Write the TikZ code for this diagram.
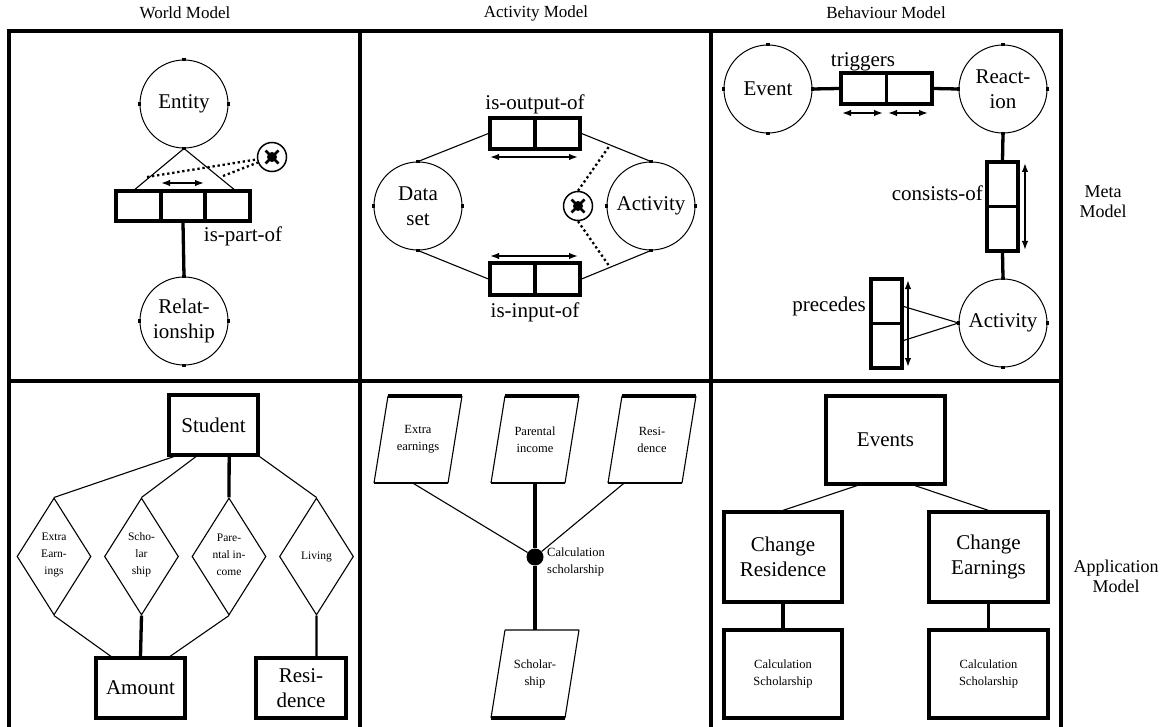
\documentclass[tikz,border=0pt]{standalone}
\usepackage{fontspec}
\setmainfont{Liberation Serif}
\usetikzlibrary{shapes.geometric,arrows.meta}
\tikzset{
  frameln/.style={line width=3.2pt},
  thinln/.style={line width=1.1pt},
  thickln/.style={line width=3.3pt},
  medln/.style={line width=2.2pt},
  dotln/.style={line width=2.3pt,dash pattern=on 2.3pt off 2.8pt},
  darr/.style={line width=1.7pt,{Latex[length=9pt,width=6.5pt]}-{Latex[length=9pt,width=6.5pt]}},
  bigtxt/.style={font=\fontsize{21}{25}\selectfont},
  smalltxt/.style={font=\fontsize{12.5}{17}\selectfont},
  diatxt/.style={font=\fontsize{11.5}{17}\selectfont},
  titletxt/.style={font=\fontsize{17}{20}\selectfont},
  sidetxt/.style={font=\fontsize{18}{20}\selectfont},
  circ/.style={circle,draw,line width=1pt,minimum size=88pt,inner sep=0pt,align=center,bigtxt},
  boxn/.style={draw,line width=3.2pt,inner sep=0pt,align=center},
  dia/.style={diamond,draw,thinln,shape aspect=0.63,minimum width=74pt,minimum height=117pt,inner sep=0pt,align=center,diatxt},
  pg/.style={minimum width=74pt,minimum height=87pt,inner sep=0pt,align=center,smalltxt},
}
\newcommand\cticks[1]{\foreach \a in {north,south,east,west}{\fill (#1.\a) +(-1.8,-1.8) rectangle +(1.8,1.8);}}
\newcommand\xmark[3]{%
  \node[circle,draw,line width=1.5pt,minimum size=29pt,inner sep=0pt] (#1) at (#2,#3) {};
  \draw[line width=2.8pt] (#2-6.5,#3-6.5) -- (#2+6.5,#3+6.5) (#2-6.5,#3+6.5) -- (#2+6.5,#3-6.5);
  \fill (#2,#3) circle (5);}
\newcommand\pgtop[1]{%
  \draw[thinln,shift={(#1.center)}] (-30,-43.5) -- (-44,43.5) (44,-43.5) -- (30,43.5);
  \draw[medln,shift={(#1.center)}] (-44,43.5) -- (30,43.5);
  \draw[thickln,shift={(#1.center)}] (-30,-43.5) -- (44,-43.5);}
\begin{document}
\begin{tikzpicture}[x=1pt,y=-1pt]
\useasboundingbox (0,0) rectangle (1172,727);
% frame
\draw[frameln] (9,727) -- (9,31) -- (1061,31) -- (1061,727);
\draw[frameln] (9,381) -- (1061,381);
\draw[frameln] (360,31) -- (360,727);
\draw[frameln] (711,31) -- (711,727);
% titles
\node[titletxt] (t1) at (185,13) {World Model};
\node[titletxt] (t2) at (536,13) {Activity Model};
\node[titletxt] (t3) at (886,13) {Behaviour Model};
\node[sidetxt,align=center] (t4) at (1103,202) {Meta\\Model};
\node[sidetxt,align=center] (t5) at (1116,576) {Application\\Model};

% ---------- World model (meta)
\node[circ] (entity) at (184,104) {Entity};
\node[circ] (rel) at (184,321) {Relat-\\ionship};
\cticks{entity}\cticks{rel}
\node[boxn,minimum width=134pt,minimum height=30pt] (ipo) at (183,206) {};
\draw[thickln] (161,191) -- (161,221) (205,191) -- (205,221);
\coordinate (ipoL) at (133,191);
\coordinate (ipoR) at (236,191);
\draw[thinln] (ipoL) -- (entity.south) -- (ipoR);
\coordinate (a1) at (161,183); \coordinate (a2) at (204,183);
\draw[darr] (a1) -- (a2);
\xmark{xa}{272}{157}
\coordinate (d1) at (147,177); \coordinate (d2) at (223,176);
\draw[dotln] (d1) -- (xa); \draw[dotln] (d2) -- (xa);
\node[bigtxt] (lpart) at (243,236) {is-part-of};
\draw[thickln] (ipo.south) -- (rel.north);

% ---------- Activity model (meta)
\node[circ] (ds) at (418,206) {Data\\set};
\node[circ] (act1) at (651,206) {Activity};
\cticks{ds}\cticks{act1}
\node[boxn,minimum width=90pt,minimum height=31pt] (out) at (535,133.5) {};
\draw[thickln] (out.north) -- (out.south);
\node[boxn,minimum width=90pt,minimum height=32pt] (in) at (535,279) {};
\draw[thickln] (in.north) -- (in.south);
\draw[thinln] (ds.north) -- (out.west) (out.east) -- (act1.north);
\draw[thinln] (ds.south) -- (in.west) (in.east) -- (act1.south);
\coordinate (b1) at (490,157); \coordinate (b2) at (578,157);
\coordinate (b3) at (490,256); \coordinate (b4) at (578,256);
\draw[darr] (b1) -- (b2); \draw[darr] (b3) -- (b4);
\node[bigtxt] (lout) at (535,104) {is-output-of};
\node[bigtxt] (lin) at (535,312) {is-input-of};
\xmark{xb}{578}{206}
\path (out.east) -- (act1.north) coordinate[pos=0.41] (d3);
\path (in.east) -- (act1.south) coordinate[pos=0.41] (d4);
\draw[dotln] (xb.north) -- (d3); \draw[dotln] (xb.south) -- (d4);

% ---------- Behaviour model (meta)
\node[circ] (ev) at (768,89) {Event};
\node[circ] (react) at (1003,89) {React-\\ion};
\node[circ] (act2) at (1003,323) {Activity};
\cticks{ev}\cticks{react}\cticks{act2}
\node[boxn,minimum width=91pt,minimum height=31pt] (trig) at (886.5,88.5) {};
\draw[thickln] (trig.north) -- (trig.south);
\draw[thickln] (ev.east) -- (trig.west) (trig.east) -- (react.west);
\coordinate (c1) at (842,113); \coordinate (c2) at (883,113);
\coordinate (c3) at (888,113); \coordinate (c4) at (928,113);
\draw[darr] (c1) -- (c2); \draw[darr] (c3) -- (c4);
\node[bigtxt] (ltrig) at (863,62) {triggers};
\node[boxn,minimum width=31pt,minimum height=89pt] (cons) at (1002.5,206.5) {};
\draw[thickln] (cons.west) -- (cons.east);
\draw[thickln] (react.south) -- (cons.north) (cons.south) -- (act2.north);
\coordinate (c5) at (1025,163); \coordinate (c6) at (1025,250);
\draw[darr] (c5) -- (c6);
\node[bigtxt,anchor=east,inner sep=0pt] (lcons) at (983,193) {consists-of};
\node[boxn,minimum width=31pt,minimum height=89pt] (prec) at (886.5,323.5) {};
\draw[thickln] (prec.west) -- (prec.east);
\coordinate (c7) at (908,280); \coordinate (c8) at (908,367);
\draw[darr] (c7) -- (c8);
\coordinate (p1) at (902,306); \coordinate (p2) at (902,341);
\draw[thinln] (p1) -- (act2.west) -- (p2);
\node[bigtxt,anchor=east,inner sep=0pt] (lprec) at (866,306) {precedes};

% ---------- World model (application)
\node[boxn,minimum width=89pt,minimum height=60pt,bigtxt] (stud) at (213.5,425) {Student};
\node[dia] (ee) at (54,556.5) {\\[-12pt]Extra\\Earn-\\ings};
\node[dia] (sch) at (141.5,556.5) {\\[-12pt]Scho-\\lar\\ship};
\node[dia] (par) at (229,556.5) {\\[-12pt]Pare-\\ntal in-\\come};
\node[dia] (liv) at (316.5,556.5) {Living};
\node[boxn,minimum width=89pt,minimum height=60pt,bigtxt] (amt) at (140.5,688) {Amount};
\node[boxn,minimum width=90pt,minimum height=60pt,bigtxt] (res) at (301,688) {Resi-\\dence};
\path (stud.south west) -- (stud.south east)
  coordinate[pos=0.07] (s1) coordinate[pos=0.31] (s2) coordinate[pos=0.67] (s3) coordinate[pos=1] (s4);
\draw[thinln] (s1) -- (ee.north);
\draw[thinln] (s2) -- (sch.north);
\draw[thickln] (s3) -- (par.north);
\draw[thinln] (s4) -- (liv.north);
\path (amt.north west) -- (amt.north east)
  coordinate[pos=0.18] (m1) coordinate[pos=0.82] (m2);
\path (res.north west) -- (res.north east) coordinate[pos=0.667] (m3);
\draw[thinln] (ee.south) -- (m1);
\draw[thickln] (sch.south) -- (amt.north);
\draw[thinln] (par.south) -- (m2);
\draw[medln] (liv.south) -- (m3);

% ---------- Activity model (application)
\node[pg] (pe) at (418,439.5) {Extra\\earnings};
\node[pg] (pp) at (535,439.5) {Parental\\income};
\node[pg] (pr) at (652,439.5) {Resi-\\dence};
\pgtop{pe}\pgtop{pp}\pgtop{pr}
\node[pg] (ps) at (535,674) {Scholar-\\ship};
\draw[thinln,shift={(ps.center)}] (-30,-44) -- (-44,44) (44,-44) -- (30,44) (-30,-44) -- (44,-44);
\draw[thickln,shift={(ps.center)}] (-44,44) -- (30,44);
\node[circle,fill,minimum size=17pt,inner sep=0pt] (calc) at (535,557) {};
\node[smalltxt,anchor=west,align=left,inner sep=0pt] (lcalc) at (547,562) {Calculation\\scholarship};
\draw[thinln] ([xshift=-5pt]pe.south) -- (calc);
\draw[thickln] (pp.south) -- (calc);
\draw[thinln] ([xshift=-28pt]pr.south) -- (calc);
\draw[thickln] (calc) -- (ps.north);

% ---------- Behaviour model (application)
\node[boxn,minimum width=119pt,minimum height=88pt,bigtxt] (evs) at (885.5,440) {Events};
\node[boxn,minimum width=118pt,minimum height=90pt,bigtxt] (cr) at (783,557) {Change\\Residence};
\node[boxn,minimum width=119pt,minimum height=90pt,bigtxt] (ce) at (988.5,557) {Change\\Earnings};
\node[boxn,minimum width=118pt,minimum height=88pt,smalltxt] (cc1) at (783,674) {Calculation\\Scholarship};
\node[boxn,minimum width=119pt,minimum height=88pt,smalltxt] (cc2) at (988.5,674) {Calculation\\Scholarship};
\draw[thinln] ([xshift=-28.5pt]evs.south) -- (cr.north);
\draw[thinln] ([xshift=29.5pt]evs.south) -- (ce.north);
\draw[thickln] (cr.south) -- (cc1.north);
\draw[medln] (ce.south) -- (cc2.north);
\end{tikzpicture}
\end{document}
